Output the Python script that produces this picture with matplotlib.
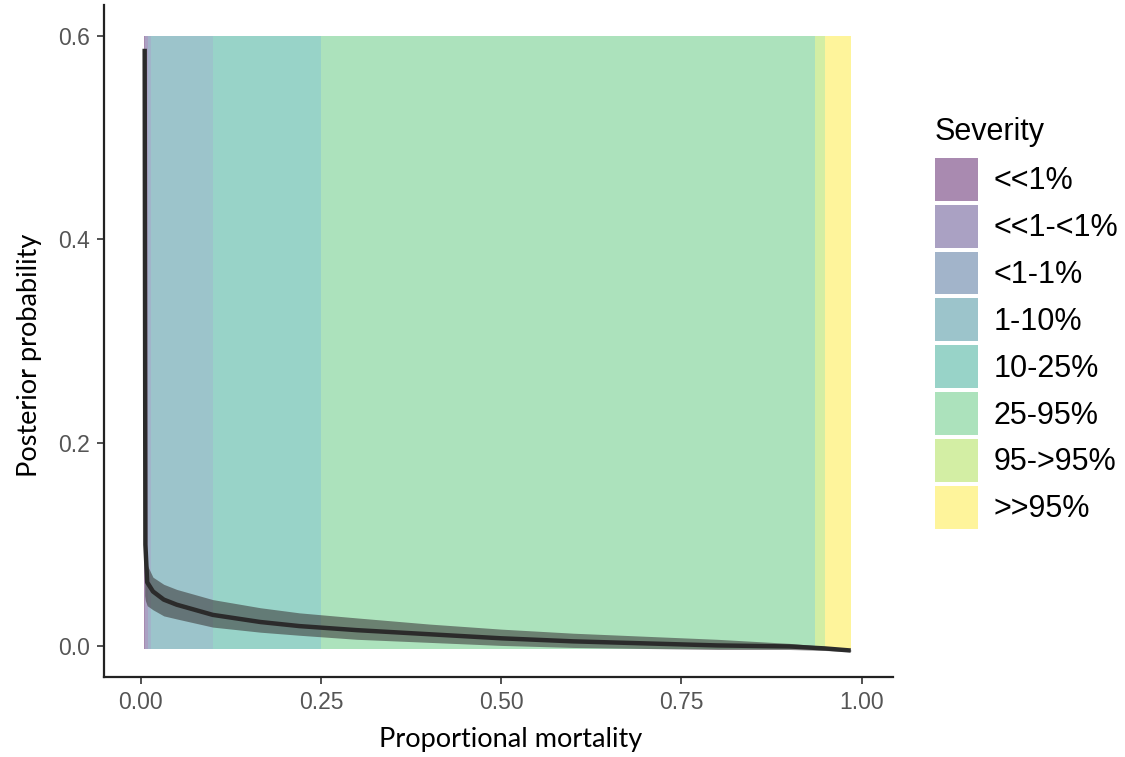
import numpy as np
import matplotlib
matplotlib.use("Agg")
import matplotlib.pyplot as plt
from matplotlib.patches import Patch

# severity bands (proportional mortality)
severity = ["<<1%", "<<1-<1%", "<1-1%", "1-10%", "10-25%", "25-95%", "95->95%", ">>95%"]
band_lo = [0.0050, 0.0060, 0.0100, 0.0140, 0.100, 0.250, 0.935, 0.950]
band_hi = [0.0060, 0.0100, 0.0140, 0.100, 0.250, 0.935, 0.950, 0.985]
band_cols = ["#440154", "#46337E", "#365C8D", "#277F8E", "#1FA187", "#4AC16D", "#9FDA3A", "#FDE725"]
band_bottom = -0.003
band_top = 0.6

# posterior curve, median + interval
mort = [0.0055, 0.0065, 0.009, 0.017, 0.032, 0.05, 0.10, 0.166, 0.22, 0.30, 0.40, 0.50,
        0.60, 0.70, 0.80, 0.90, 0.95, 0.985]
post_med = [0.587, 0.100, 0.063, 0.054, 0.046, 0.041, 0.031, 0.024, 0.020, 0.016, 0.012, 0.008,
            0.005, 0.003, 0.001, 0.000, -0.002, -0.004]
post_hi = [0.095, 0.090, 0.080, 0.068, 0.061, 0.056, 0.046, 0.038, 0.033, 0.028, 0.022, 0.017,
           0.013, 0.010, 0.007, 0.003, 0.000, -0.003]
post_lo = [0.050, 0.045, 0.040, 0.036, 0.030, 0.027, 0.019, 0.014, 0.011, 0.007, 0.004, 0.001,
           -0.001, -0.002, -0.003, -0.003, -0.004, -0.005]

xticks = [0.0, 0.25, 0.5, 0.75, 1.0]
xticklabels = ["0.00", "0.25", "0.50", "0.75", "1.00"]
yticks = [0.0, 0.2, 0.4, 0.6]
yticklabels = ["0.0", "0.2", "0.4", "0.6"]

fig = plt.figure(figsize=(11.25, 7.57), dpi=100)
ax = fig.add_axes([0.0924, 0.1057, 0.7016, 0.8877])

alpha = 0.46
handles = []
for lo, hi, c, lab in zip(band_lo, band_hi, band_cols, severity):
    ax.bar(lo, band_top - band_bottom, width=hi - lo, bottom=band_bottom, align="edge",
           color=c, alpha=alpha, linewidth=0)
    handles.append(Patch(facecolor=c, alpha=alpha, edgecolor="none", label=lab))

ax.fill_between(mort, post_lo, post_hi, color="#404040", alpha=0.6, linewidth=0)
ax.plot(mort, post_med, color="#2b2b2b", lw=3.2, solid_capstyle="butt")

ax.set_xlim(-0.051, 1.044)
ax.set_ylim(-0.03, 0.63)
ax.set_xticks(xticks)
ax.set_xticklabels(xticklabels)
ax.set_yticks(yticks)
ax.set_yticklabels(yticklabels)
for s in ["top", "right"]:
    ax.spines[s].set_visible(False)
for s in ["left", "bottom"]:
    ax.spines[s].set_linewidth(1.6)
    ax.spines[s].set_color("#222222")
ax.tick_params(length=5, width=1.2, color="#333333", labelcolor="#555555",
               labelsize=16.5, pad=5)
for t in ax.get_xticklabels() + ax.get_yticklabels():
    t.set_family("Liberation Sans")

ax.set_xlabel("Proportional mortality", family="Lato", fontsize=19.5)
ax.set_ylabel("Posterior probability", family="Lato", fontsize=19.5)
ax.xaxis.set_label_coords(0.515, -0.075)
ax.yaxis.set_label_coords(-0.079, 0.479)

leg = fig.legend(handles=handles, loc="upper left", bbox_to_anchor=(0.831, 0.846),
                 frameon=False, title="Severity",
                 prop={"family": "Liberation Sans", "size": 22},
                 title_fontproperties={"family": "Liberation Sans", "size": 22},
                 handlelength=1.4, handleheight=1.785, labelspacing=0.13,
                 handletextpad=0.52, borderpad=0, borderaxespad=0)
leg._legend_box.align = "left"
leg._legend_box.sep = 8

fig.savefig("out.png", dpi=100)
